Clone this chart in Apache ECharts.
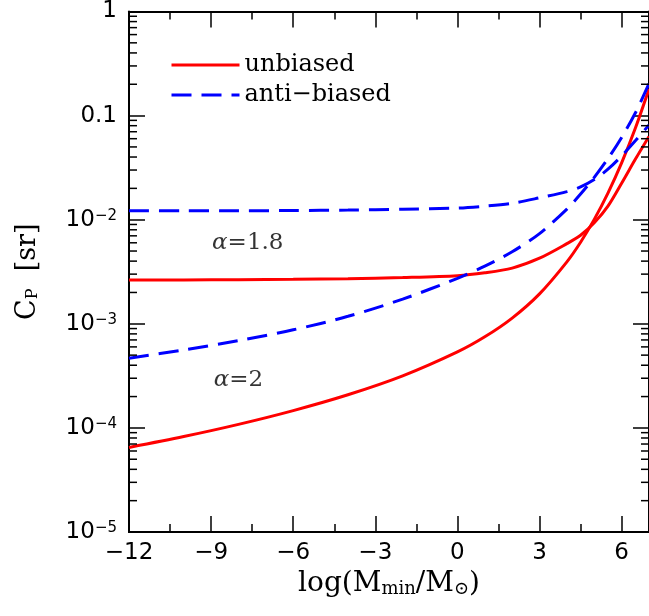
<!DOCTYPE html>
<html>
<head>
<meta charset="utf-8">
<script src="https://cdn.jsdelivr.net/npm/echarts@6/dist/echarts.min.js"></script>
<style>
  html, body { margin: 0; padding: 0; background: #fff; }
  #chart { width: 649px; height: 616px; }
</style>
</head>
<body>
<div id="chart"></div>
<script>
// sample points along log(M_min/M_sun)
const xValues = [-12, -10, -8, -6, -4, -2, 0, 1, 2, 3, 4, 4.5, 5, 5.5, 6, 6.5, 7]

// C_P [sr]
const unbiased18 = [2.636e-3, 2.642e-3, 2.655e-3, 2.673e-3, 2.71e-3, 2.78e-3, 2.897e-3, 3.09e-3, 3.43e-3, 4.27e-3, 5.89e-3, 7.08e-3, 9.33e-3, 0.0135, 0.0224, 0.038, 0.0631]
const unbiased2 = [6.49e-5, 8.26e-5, 1.081e-4, 1.466e-4, 2.08e-4, 3.16e-4, 5.37e-4, 7.5e-4, 1.135e-3, 1.94e-3, 3.94e-3, 6.08e-3, 0.01007, 0.018, 0.0351, 0.0755, 0.18]
const antiBiased18 = [0.01216, 0.01216, 0.01219, 0.01225, 0.01236, 0.01259, 0.01294, 0.01349, 0.01435, 0.01622, 0.01862, 0.02065, 0.02427, 0.03055, 0.041, 0.0572, 0.0813]
const antiBiased2 = [4.67e-4, 5.61e-4, 6.9e-4, 8.75e-4, 1.18e-3, 1.726e-3, 2.735e-3, 3.585e-3, 4.92e-3, 7.36e-3, 0.01265, 0.01762, 0.02553, 0.0386, 0.0616, 0.1058, 0.2028]

const legendNames = ['unbiased', 'anti\u2212biased']
const alphaLabels = [
  { text: '1.8', x: -7.66, y: 5.97e-3 },
  { text: '2', x: -8.0, y: 2.9e-4 },
]
const minorYTicks = []
for (let e = -5; e < 0; e++) {
  for (let m = 2; m <= 9; m++) minorYTicks.push(m * Math.pow(10, e))
}

const SERIF = "'DejaVu Serif', 'Liberation Serif', serif"
const SANS = "'DejaVu Sans', 'Liberation Sans', sans-serif"
const RED = '#ff0000'
const BLUE = '#0000ff'

function pairs(ys) {
  return xValues.map((x, i) => [x, ys[i]])
}

function xAxis(position, interval, tickLen, withLabels) {
  const ax = {
    type: 'value',
    position,
    min: -12,
    max: 7,
    interval,
    axisLine: { show: true, onZero: false, lineStyle: { color: '#000', width: 2 } },
    axisTick: { show: true, inside: true, length: tickLen, lineStyle: { color: '#000', width: 1.5 } },
    axisLabel: { show: false },
    splitLine: { show: false },
  }
  if (withLabels) {
    ax.axisLabel = {
      show: true,
      showMaxLabel: false,
      margin: 10,
      color: '#000',
      fontFamily: SANS,
      fontSize: 23,
      formatter: v => (v < 0 ? '\u2212' + (-v) : '' + v),
    }
    ax.name = 'log(M{sub|min}/M{sub|\u2299})'
    ax.nameLocation = 'middle'
    ax.nameGap = 37
    ax.nameTextStyle = {
      color: '#000', fontFamily: SERIF, fontSize: 28,
      rich: { sub: { fontFamily: SERIF, fontSize: 18, verticalAlign: 'bottom', padding: [10, 0, 0, 0] } },
    }
  }
  return ax
}

function yAxis(position, withLabels) {
  const ax = {
    type: 'log',
    logBase: 10,
    position,
    min: 1e-5,
    max: 1,
    splitNumber: 5,
    axisLine: { show: true, onZero: false, lineStyle: { color: '#000', width: 2 } },
    axisTick: { show: true, inside: true, length: 16, lineStyle: { color: '#000', width: 1.5 } },
    axisLabel: { show: false },
    splitLine: { show: false },
  }
  if (withLabels) {
    ax.axisLabel = {
      show: true,
      margin: 12,
      color: '#000',
      fontFamily: SANS,
      fontSize: 23,
      formatter: v => {
        const e = Math.round(Math.log10(v))
        if (e === 0) return '1'
        if (e === -1) return '0.1'
        return '10{sup|\u2212' + (-e) + '}'
      },
      rich: { sup: { fontFamily: SANS, fontSize: 15, verticalAlign: 'top', padding: [0, 0, 8, 0] } },
    }
    ax.name = 'C{sub|P}  [sr]'
    ax.nameLocation = 'middle'
    ax.nameGap = 88
    ax.nameTextStyle = {
      color: '#000', fontFamily: SERIF, fontSize: 27,
      rich: { sub: { fontFamily: SERIF, fontSize: 16, verticalAlign: 'bottom', padding: [10, 0, 0, 0] } },
    }
  }
  return ax
}

function curve(name, ys, color, dashed) {
  return {
    name,
    type: 'line',
    data: pairs(ys),
    smooth: 0.3,
    symbol: 'none',
    lineStyle: { color, width: 3, type: dashed ? [20, 10] : 'solid' },
    itemStyle: { color },
    z: 3,
  }
}

const chart = echarts.init(document.getElementById('chart'))
chart.setOption({
  animation: false,
  grid: { left: 129, right: 0, top: 11, bottom: 84 },
  legend: {
    data: legendNames,
    orient: 'vertical',
    left: 170,
    top: 53,
    padding: 0,
    itemWidth: 68,
    itemHeight: 14,
    itemGap: 6,
    selectedMode: false,
    itemStyle: { opacity: 0 },
    lineStyle: { width: 3 },
    textStyle: { fontFamily: SERIF, fontSize: 24, color: '#000' },
  },
  xAxis: [
    xAxis('bottom', 3, 16, true),
    xAxis('bottom', 1.5, 8, false),
    xAxis('top', 3, 16, false),
    xAxis('top', 1.5, 8, false),
  ],
  yAxis: [yAxis('left', true), yAxis('right', false)],
  series: [
    curve(legendNames[0], unbiased18, RED, false),
    curve(legendNames[0], unbiased2, RED, false),
    curve(legendNames[1], antiBiased18, BLUE, true),
    curve(legendNames[1], antiBiased2, BLUE, true),
    {
      name: 'minor',
      type: 'custom',
      silent: true,
      data: minorYTicks.map(v => [-12, v]),
      renderItem: (params, api) => {
        const cs = params.coordSys
        const y = api.coord([api.value(0), api.value(1)])[1]
        const st = { stroke: '#000', lineWidth: 1.5 }
        return {
          type: 'group',
          children: [
            { type: 'line', shape: { x1: cs.x, y1: y, x2: cs.x + 8, y2: y }, style: st },
            { type: 'line', shape: { x1: cs.x + cs.width, y1: y, x2: cs.x + cs.width - 8, y2: y }, style: st },
          ],
        }
      },
      z: 5,
    },
    {
      name: 'alpha',
      type: 'scatter',
      silent: true,
      symbolSize: 0,
      data: alphaLabels.map(a => ({ value: [a.x, a.y], label: { formatter: '{a|\u03b1}=' + a.text } })),
      label: {
        show: true,
        position: 'inside',
        color: '#000',
        textBorderWidth: 0,
        fontFamily: SERIF,
        fontSize: 23,
        rich: { a: { fontFamily: SERIF, fontStyle: 'italic', fontSize: 23, color: '#000', textBorderWidth: 0 } },
      },
    },
  ],
})
</script>
</body>
</html>
